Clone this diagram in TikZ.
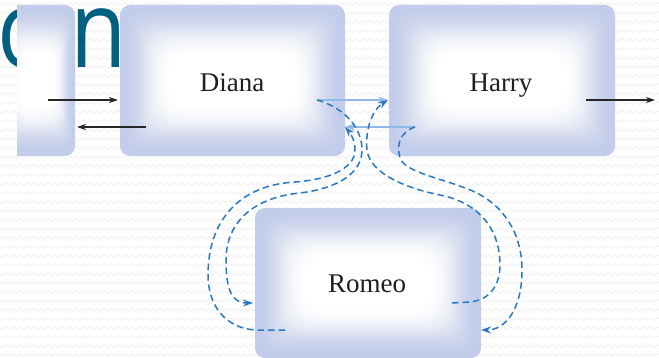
\documentclass[tikz,border=0pt]{standalone}
\usepackage{fontspec}
\setmainfont{Liberation Serif}
\newfontfamily\titlefont{Open Sans}
\usetikzlibrary{arrows.meta,decorations.pathmorphing}
\definecolor{boxblue}{RGB}{194,205,235}
\definecolor{dashblue}{RGB}{40,120,195}
\definecolor{lightblue}{RGB}{145,183,230}
\definecolor{titleteal}{RGB}{0,96,128}
\definecolor{wavegray}{RGB}{236,236,236}
\tikzset{
  box/.style={rectangle, rounded corners=10pt, fill=boxblue, draw=none, inner sep=0pt},
  boxtext/.style={font=\fontsize{27}{30}\selectfont, text=black!88, inner sep=0pt, anchor=base},
  titletext/.style={anchor=base west, inner sep=0pt, text=titleteal, xscale=0.85,
    font=\titlefont\fontsize{108}{108}\selectfont},
  blackarrow/.style={line width=1.1pt, black!85, -{Stealth[length=9pt,width=6pt]}},
  lightarrow/.style={line width=1.2pt, lightblue, -{Stealth[length=10pt,width=7pt]}},
  dasharrow/.style={line width=1.5pt, dashblue, dash pattern=on 6.5pt off 4pt},
  dashtip/.style={-{Stealth[length=10pt,width=7pt]}},
  bgwave/.style={wavegray, line width=0.6pt, decorate, decoration={snake, amplitude=1.3pt, segment length=7pt}}
}
% soft white glow inside a box node (smoothstep ramp): #1 node, #2 x step, #3 y step, #4 corner growth
\newcommand\glowlayers[4]{%
  \foreach \k [evaluate=\k as \dx using #2*\k, evaluate=\k as \dy using #3*\k,
               evaluate=\k as \rr using 10+#4*\k,
               evaluate=\k as \op using {((3*(\k/20)^2-2*(\k/20)^3)-(3*((\k-1)/20)^2-2*((\k-1)/20)^3))/(1-(3*((\k-1)/20)^2-2*((\k-1)/20)^3))}] in {1,...,20}{%
    \fill[white, fill opacity=\op, rounded corners=\rr pt]
      ([xshift=\dx pt, yshift=\dy pt]#1.south west) rectangle
      ([xshift=-\dx pt, yshift=-\dy pt]#1.north east);}}
\begin{document}
\begin{tikzpicture}[x=1pt,y=-1pt]
\useasboundingbox (0,0) rectangle (659,358);
\fill[white] (0,0) rectangle (659,358);
\foreach \yy in {4,13,...,360} \draw[bgwave] (-10,\yy) -- (670,\yy);
% title fragment behind the boxes
\node[titletext] (title1) at (-3,68) {o};
\node[titletext] (title2) at (70,68) {n};
% boxes
\begin{scope}
  \clip (17,0) rectangle (120,358);
  \node[box, minimum width=75pt, minimum height=151pt] (left) at (37.5,80.5) {};
  \glowlayers{left}{1.0}{2.4}{0.3}
\end{scope}
\node[box, minimum width=225pt, minimum height=151pt] (diana) at (232.5,80.5) {};
\glowlayers{diana}{2.4}{2.4}{0.85}
\node[box, minimum width=226pt, minimum height=151pt] (harry) at (502,80.5) {};
\glowlayers{harry}{2.4}{2.4}{0.85}
\node[box, minimum width=226pt, minimum height=150pt] (romeo) at (368,283) {};
\glowlayers{romeo}{2.4}{2.4}{0.85}
\node[boxtext] (dianaT) at (232,92) {Diana};
\node[boxtext] (harryT) at (501,92) {Harry};
\node[boxtext] (romeoT) at (367,292) {Romeo};
% named end points
\coordinate (l1) at (48,100);
\coordinate (d1) at (118,100);
\coordinate (d2) at (146,127);
\coordinate (l2) at (77,127);
\coordinate (h1) at (586,100);
\coordinate (out) at (655,100);
\coordinate (dOut) at (317,100);
\coordinate (hIn) at (388,100);
\coordinate (hOut) at (415,127);
\coordinate (dIn) at (345,127);
\coordinate (rInL) at (253,303);
\coordinate (rOutL) at (285,330);
\coordinate (rOutR) at (452,303);
\coordinate (rInR) at (481,330);
% black arrows
\draw[blackarrow] (l1) -- (d1);
\draw[blackarrow] (d2) -- (l2);
\draw[blackarrow] (h1) -- (out);
% light blue direct messages
\draw[lightarrow] (dOut) -- (hIn);
\draw[lightarrow] (hOut) -- (dIn);
% dashed intercepted routes
\draw[dasharrow, dashtip] (dOut) .. controls (345,108) and (362,128) .. (362,150)
  .. controls (362,172) and (340,188) .. (300,193)
  .. controls (250,198) and (226,225) .. (226,260)
  .. controls (226,290) and (232,303) .. (rInL);
\draw[dasharrow, dashtip] (rOutL) -- (255,330)
  .. controls (225,328) and (208,305) .. (208,275)
  .. controls (208,220) and (240,185) .. (295,182)
  .. controls (325,180) and (355,170) .. (355,150)
  .. controls (355,142) and (352,135) .. (dIn);
\draw[dasharrow, dashtip] (rOutR) -- (470,302)
  .. controls (490,300) and (500,285) .. (500,265)
  .. controls (500,230) and (480,203) .. (440,195)
  .. controls (410,189) and (370,175) .. (367,150)
  .. controls (365,130) and (372,110) .. (hIn);
\draw[dasharrow, dashtip] (hOut) .. controls (400,132) and (396,145) .. (400,158)
  .. controls (405,172) and (440,178) .. (465,188)
  .. controls (500,200) and (522,230) .. (522,270)
  .. controls (522,310) and (505,330) .. (rInR);
\end{tikzpicture}
\end{document}
